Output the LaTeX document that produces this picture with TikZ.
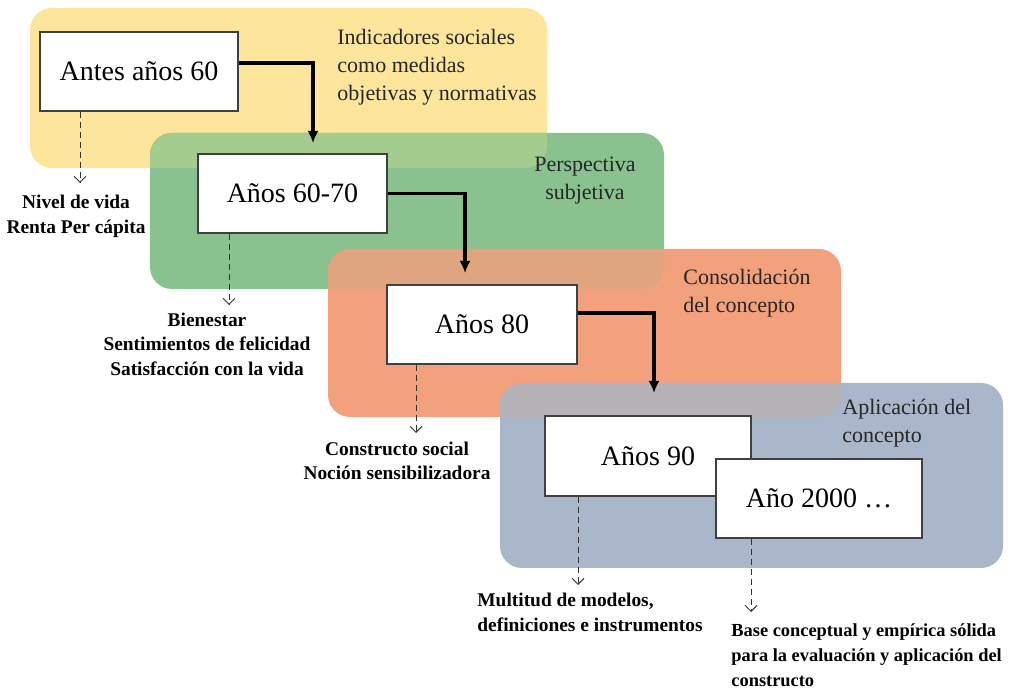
\documentclass[tikz,border=0pt]{standalone}
\usepackage{fontspec}
\setmainfont{Liberation Serif}
\usetikzlibrary{arrows.meta,positioning}
\definecolor{eraYellow}{HTML}{FDE59B}
\definecolor{eraGreen}{HTML}{89C28F}
\definecolor{eraOrange}{HTML}{F2A17C}
\definecolor{eraBlue}{HTML}{AAB7CB}
\definecolor{mixYG}{HTML}{A3CC8E}
\definecolor{mixGO}{HTML}{DEA57E}
\definecolor{mixOB}{HTML}{B4B2B7}
\tikzset{
  era/.style     = {rounded corners=11pt},
  yearbox/.style = {draw=black!75, line width=0.6pt, fill=white, inner sep=0pt,
                    minimum height=39.5pt, font=\fontsize{14}{16}\selectfont},
  eralab/.style  = {align=left, inner sep=0pt, text=black!85,
                    font=\fontsize{11}{14}\selectfont},
  note/.style    = {align=center, inner sep=0pt,
                    font=\bfseries\fontsize{9.7}{12.3}\selectfont},
  flow/.style    = {-{Latex[length=6pt,width=5.5pt]}, line width=1.6pt},
  detail/.style  = {-{Straight Barb[length=3pt,width=6pt]}, densely dashed,
                    line width=0.45pt, black!80},
}
\begin{document}
\begin{tikzpicture}[x=0.5pt, y=-0.5pt]
  \useasboundingbox (0,0) rectangle (1011,688);
  % eras
  \fill[era, eraYellow] (30,8) rectangle (547,168);
  \fill[era, eraGreen] (150,133) rectangle (664,289);
  \fill[era, eraOrange] (328,249) rectangle (841,417);
  \fill[era, eraBlue] (500,383) rectangle (1003,568);
  % where they overlap
  \begin{scope}
    \clip[era] (30,8) rectangle (547,168);
    \fill[era, mixYG] (150,133) rectangle (664,289);
  \end{scope}
  \begin{scope}
    \clip[era] (150,133) rectangle (664,289);
    \fill[era, mixGO] (328,249) rectangle (841,417);
  \end{scope}
  \begin{scope}
    \clip[era] (328,249) rectangle (841,417);
    \fill[era, mixOB] (500,383) rectangle (1003,568);
  \end{scope}

  \node[yearbox, minimum width=99pt]   (antes)   at (139,71.5)  {Antes años 60};
  \node[yearbox, minimum width=94.5pt] (sesenta) at (292.5,193.5) {Años 60-70};
  \node[yearbox, minimum width=95pt]   (ochenta) at (482,324.5) {Años 80};
  \node[yearbox, minimum width=103pt, minimum height=40pt] (noventa) at (648,456) {Años 90};
  \node[yearbox, minimum width=103pt]  (dosmil)  at (819,498.5) {Año 2000 …};

  \coordinate (t1) at (313,143);
  \coordinate (t2) at (465,273);
  \coordinate (t3) at (654,393);
  \draw[flow] ([yshift=4.25pt]antes.east) -| (t1);
  \draw[flow] (sesenta.east) -| (t2);
  \draw[flow] ([yshift=5.75pt]ochenta.east) -| (t3);

  \node[eralab, anchor=west] (indic) at (337,67.5)
    {Indicadores sociales\\como medidas\\objetivas y normativas};
  \node[eralab, align=center] (persp) at (585,181) {Perspectiva\\subjetiva};
  \node[eralab, anchor=west] (consol) at (683,293.5) {Consolidación\\del concepto};
  \node[eralab, anchor=west] (aplic) at (842,423) {Aplicación del\\concepto};

  \node[note] (nivel) at (76,216.5) {Nivel de vida\\Renta Per cápita};
  \node[note] (bienestar) at (207,344)
    {Bienestar\\Sentimientos de felicidad\\Satisfacción con la vida};
  \node[note] (constructo) at (397,461) {Constructo social\\Noción sensibilizadora};
  \node[note, align=left, anchor=west] (multitud) at (477,612.5)
    {Multitud de modelos,\\definiciones e instrumentos};
  \node[note, align=left, anchor=west, font=\bfseries\fontsize{9.2}{12.6}\selectfont]
    (base) at (731,655.5)
    {Base conceptual y empírica sólida\\para la evaluación y aplicación del\\constructo};

  \coordinate (d1) at (80,183);
  \coordinate (d2) at (229,305);
  \coordinate (d3) at (416,433);
  \coordinate (d4) at (578,585);
  \coordinate (d5) at (751,612);
  \draw[detail] (antes.south -| d1) -- (d1);
  \draw[detail] (sesenta.south -| d2) -- (d2);
  \draw[detail] (ochenta.south -| d3) -- (d3);
  \draw[detail] (noventa.south -| d4) -- (d4);
  \draw[detail] (dosmil.south -| d5) -- (d5);
\end{tikzpicture}
\end{document}
